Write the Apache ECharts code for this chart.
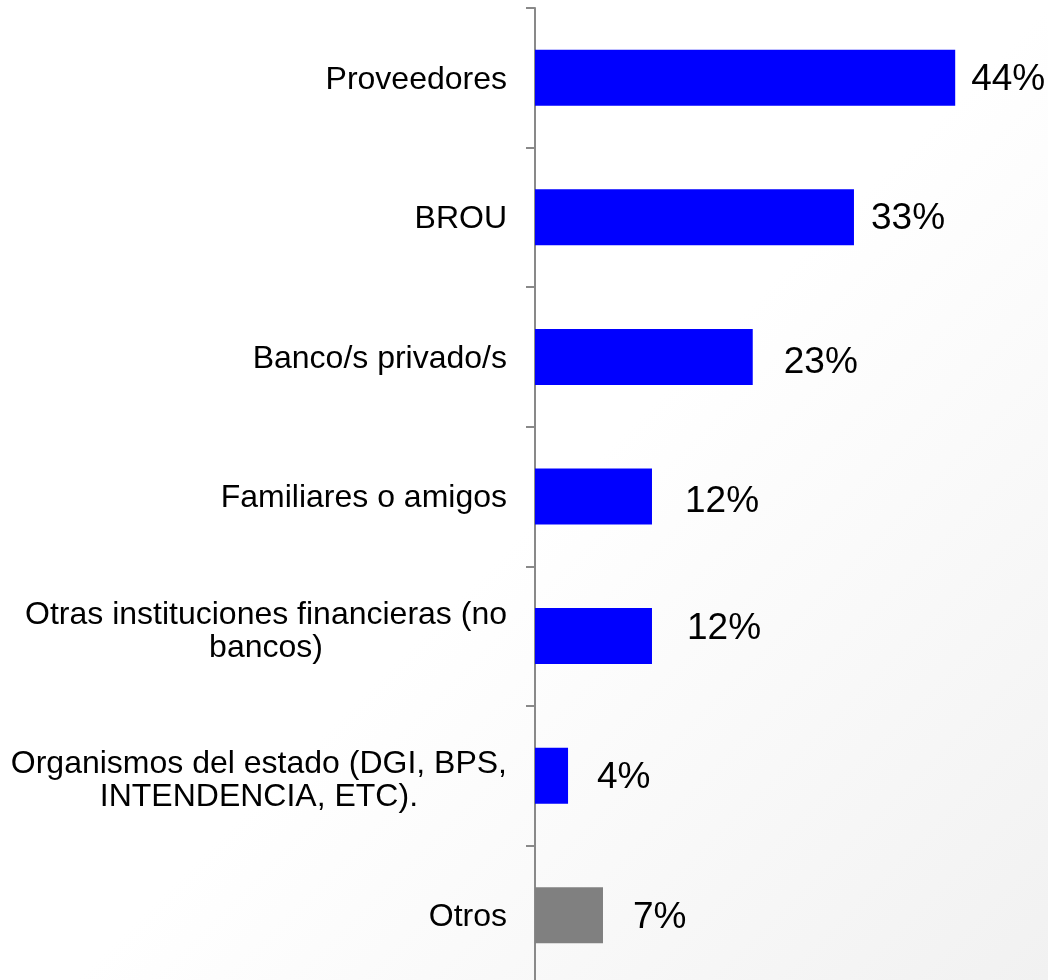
<!DOCTYPE html>
<html>
<head>
<meta charset="utf-8">
<script src="https://cdn.jsdelivr.net/npm/echarts@6/dist/echarts.min.js"></script>
<style>
  html, body { margin: 0; padding: 0; }
  #chart {
    width: 1048px;
    height: 980px;
    background: linear-gradient(135deg, #ffffff 52%, #f1f1f1 100%);
  }
</style>
</head>
<body>
<div id="chart"></div>
<script>
// categories, top to bottom
const categories = [
  'Proveedores',
  'BROU',
  'Banco/s privado/s',
  'Familiares o amigos',
  'Otras instituciones financieras (no\nbancos)',
  'Organismos del estado (DGI, BPS,\nINTENDENCIA, ETC).',
  'Otros'
]
const values = [44.0, 33.4, 22.8, 12.25, 12.25, 3.46, 7.12]
const valueLabels = ['44%', '33%', '23%', '12%', '12%', '4%', '7%']

// small per-label nudges so the texts sit like in the original
const labelShift = [[0, 2], [1, 1], [15, 6], [17, 5], [19, -7], [13, 2], [14, 3]]
const catPad = [[4, 0], [4, 0], [4, 0], [4, 0], [0, 8], [10, 0], [4, 0]]

const BLUE = '#0000ff'
const GRAY = '#808080'
const FONT = '"Liberation Sans", Arial, sans-serif'

var myChart = echarts.init(document.getElementById('chart'))

let option = {
  animation: false,
  grid: {
    left: 535,
    width: 477.5,
    top: 8,
    bottom: -5,
    outerBoundsMode: 'none'
  },
  xAxis: {
    type: 'value',
    min: 0,
    max: 50,
    show: false
  },
  yAxis: {
    type: 'category',
    inverse: true,
    data: categories.map(function (c, i) {
      return { value: c, textStyle: { padding: [catPad[i][0], 0, catPad[i][1], 0] } }
    }),
    axisLine: {
      show: true,
      lineStyle: { color: '#898989', width: 2 }
    },
    axisTick: {
      show: true,
      length: 9,
      lineStyle: { color: '#898989', width: 2 }
    },
    splitLine: { show: false },
    axisLabel: {
      margin: 28,
      color: '#000',
      fontFamily: FONT,
      fontSize: 32,
      lineHeight: 33,
      formatter: function (val) {
        return val.split('\n').map(function (l) { return '{c|' + l + '}' }).join('\n')
      },
      rich: {
        c: {
          align: 'center',
          color: '#000',
          fontFamily: FONT,
          fontSize: 32,
          lineHeight: 33
        }
      }
    }
  },
  series: [
    {
      type: 'bar',
      barWidth: 56,
      data: values.map(function (v, i) {
        return {
          value: v,
          itemStyle: { color: categories[i] === 'Otros' ? GRAY : BLUE },
          label: {
            show: true,
            position: 'right',
            distance: 16,
            offset: labelShift[i],
            formatter: valueLabels[i],
            color: '#000',
            fontFamily: FONT,
            fontSize: 37
          }
        }
      })
    }
  ]
}
myChart.setOption(option)
</script>
</body>
</html>
